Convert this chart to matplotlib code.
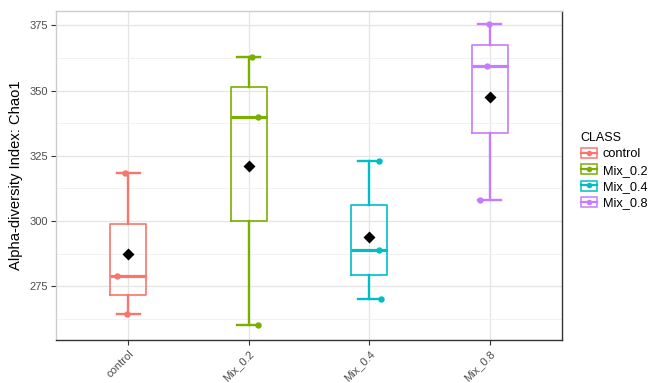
import matplotlib.pyplot as plt
import numpy as np
from matplotlib.patches import Rectangle
from matplotlib.lines import Line2D

plt.rcParams['font.family'] = ['Liberation Sans', 'DejaVu Sans']

# Chao1 values per group (3 samples each)
classes = ['control', 'Mix_0.2', 'Mix_0.4', 'Mix_0.8']
control = [264.5, 279.0, 318.5]
mix_02 = [260.0, 340.0, 363.0]
mix_04 = [270.0, 289.0, 323.0]
mix_08 = [308.0, 359.5, 375.5]
values = [control, mix_02, mix_04, mix_08]
colors = ['#F8766D', '#7CAE00', '#00BFC4', '#C77CFF']
# horizontal jitter of the sample dots
jitter = [[-0.01, -0.09, -0.03], [0.08, 0.08, 0.03],
          [0.10, 0.08, 0.08], [-0.08, -0.02, -0.01]]

fig = plt.figure(figsize=(6.51, 3.83), dpi=100)
ax = fig.add_axes([0.086, 0.1123, 0.7773, 0.859])

pos = np.arange(1, len(classes) + 1)
for i, (vals, col) in enumerate(zip(values, colors)):
    ax.boxplot([vals], positions=[pos[i]], widths=0.30, whis=(0, 100),
               capwidths=[0.19], showfliers=False, patch_artist=False,
               boxprops=dict(color=col, lw=1.2),
               whiskerprops=dict(color=col, lw=1.7),
               capprops=dict(color=col, lw=1.7),
               medianprops=dict(color=col, lw=2.3), zorder=3)
    ax.plot(pos[i] + np.array(jitter[i]), vals, 'o', color=col, ms=4.6,
            mec='none', zorder=4)
    ax.plot(pos[i], np.mean(vals), 'D', color='black', ms=6.2, mec='none', zorder=5)

ax.set_xlim(0.4, 4.6)
ax.set_ylim(254.4, 380.5)
ax.set_xticks(pos)
ax.set_xticklabels(classes, rotation=45, ha='right', rotation_mode='anchor')
ax.set_yticks([275, 300, 325, 350, 375])
ax.set_yticks([262.5, 287.5, 312.5, 337.5, 362.5], minor=True)
ax.grid(which='major', color='#E5E5E5', lw=0.9)
ax.grid(which='minor', axis='y', color='#F0F0F0', lw=0.6)
ax.set_axisbelow(True)
ax.tick_params(axis='both', which='major', length=3.5, width=0.8, color='#333333',
               labelsize=8, labelcolor='#4D4D4D', pad=2)
ax.tick_params(axis='x', pad=2.5)
ax.tick_params(which='minor', length=0)
ax.set_ylabel('Alpha-diversity Index: Chao1', fontsize=10.6, color='black', labelpad=5)

ax.spines['left'].set_color('#CCCCCC')
ax.spines['top'].set_color('#CCCCCC')
ax.spines['right'].set_color('#333333')
ax.spines['bottom'].set_color('#333333')
for s in ax.spines.values():
    s.set_linewidth(1.0)

handles = []
for col in colors:
    box = Rectangle((0, 0), 1, 1, facecolor='white', edgecolor=col, lw=1.1)
    mark = Line2D([], [], color=col, lw=1.6, marker='o', ms=4, mec='none')
    handles.append((box, mark))
leg = fig.legend(handles, classes, title='CLASS', loc='upper left',
                 bbox_to_anchor=(0.882, 0.672), frameon=False, fontsize=9.2,
                 title_fontsize=9, handlelength=1.3, handleheight=0.85,
                 handletextpad=0.45, labelspacing=0.3, borderpad=0)
leg._legend_box.align = 'left'

fig.savefig('out.png', dpi=100)
